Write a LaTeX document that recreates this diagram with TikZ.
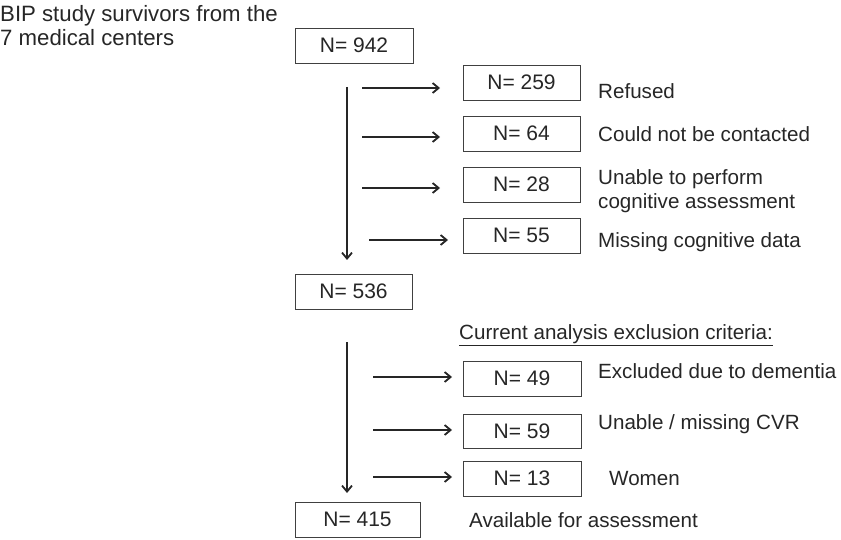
\documentclass[tikz,border=0pt]{standalone}
\usepackage{fontspec}
\setmainfont{Liberation Sans}
\usetikzlibrary{arrows.meta}
\begin{document}
\begin{tikzpicture}[x=1pt,y=-1pt,
  nbox/.style={draw=black!75,line width=0.9pt,inner sep=0pt,text depth=0pt,font=\fontsize{21}{24}\selectfont,text=black!85},
  lbl/.style={anchor=west,inner sep=0pt,font=\fontsize{20.6}{24}\selectfont,text=black!85,align=left},
  arr/.style={line width=1.5pt,draw=black!85,-{Straight Barb[length=6pt,width=10pt,line width=1.8pt]}}]
\useasboundingbox (0,0) rectangle (841,540);
% boxes
\node[nbox,minimum width=118pt,minimum height=35pt] (b942) at (354,45.5) {N= 942};
\node[nbox,minimum width=117pt,minimum height=35pt] (b259) at (521.5,82.5) {N= 259};
\node[nbox,minimum width=117pt,minimum height=35pt] (b64) at (521.5,133.5) {N= 64};
\node[nbox,minimum width=117pt,minimum height=35pt] (b28) at (521.5,184.5) {N= 28};
\node[nbox,minimum width=117pt,minimum height=35pt] (b55) at (521.5,235.5) {N= 55};
\node[nbox,minimum width=117pt,minimum height=35pt] (b536) at (353.5,291.5) {N= 536};
\node[nbox,minimum width=118pt,minimum height=35pt] (b49) at (522,378.5) {N= 49};
\node[nbox,minimum width=118pt,minimum height=34pt] (b59) at (522,431) {N= 59};
\node[nbox,minimum width=118pt,minimum height=35pt] (b13) at (522,478.5) {N= 13};
\node[nbox,minimum width=125pt,minimum height=35pt] (b415) at (357.5,519.5) {N= 415};
% labels
\node[lbl,font=\fontsize{22.2}{24}\selectfont] (t0) at (0,26) {BIP study survivors from the\\7 medical centers};
\node[lbl] (t259) at (598,91) {Refused};
\node[lbl] (t64) at (598,134) {Could not be contacted};
\node[lbl] (t28) at (598,191) {Unable to perform\\cognitive assessment};
\node[lbl] (t55) at (598,242) {Missing cognitive data};
\node[lbl] (tcur) at (459,335) {\underline{Current analysis exclusion criteria:}};
\node[lbl] (t49) at (598,371) {Excluded due to dementia};
\node[lbl] (t59) at (598,424) {Unable / missing CVR};
\node[lbl] (t13) at (609,479) {Women};
\node[lbl] (t415) at (469,520) {Available for assessment};
% vertical arrows
\coordinate (v1s) at (347,87);
\coordinate (v1e) at (347,260);
\coordinate (v2s) at (347,342);
\coordinate (v2e) at (347,493);
\draw[arr] (v1s) -- (v1e);
\draw[arr] (v2s) -- (v2e);
% horizontal arrows
\coordinate (h1) at (362,88);  \coordinate (h1e) at (440,88);
\coordinate (h2) at (362,137); \coordinate (h2e) at (440,137);
\coordinate (h3) at (362,188); \coordinate (h3e) at (440,188);
\coordinate (h4) at (369,240); \coordinate (h4e) at (448,240);
\coordinate (h5) at (373,377); \coordinate (h5e) at (452,377);
\coordinate (h6) at (373,430); \coordinate (h6e) at (452,430);
\coordinate (h7) at (373,477); \coordinate (h7e) at (452,477);
\draw[arr] (h1) -- (h1e);
\draw[arr] (h2) -- (h2e);
\draw[arr] (h3) -- (h3e);
\draw[arr] (h4) -- (h4e);
\draw[arr] (h5) -- (h5e);
\draw[arr] (h6) -- (h6e);
\draw[arr] (h7) -- (h7e);
\end{tikzpicture}
\end{document}
